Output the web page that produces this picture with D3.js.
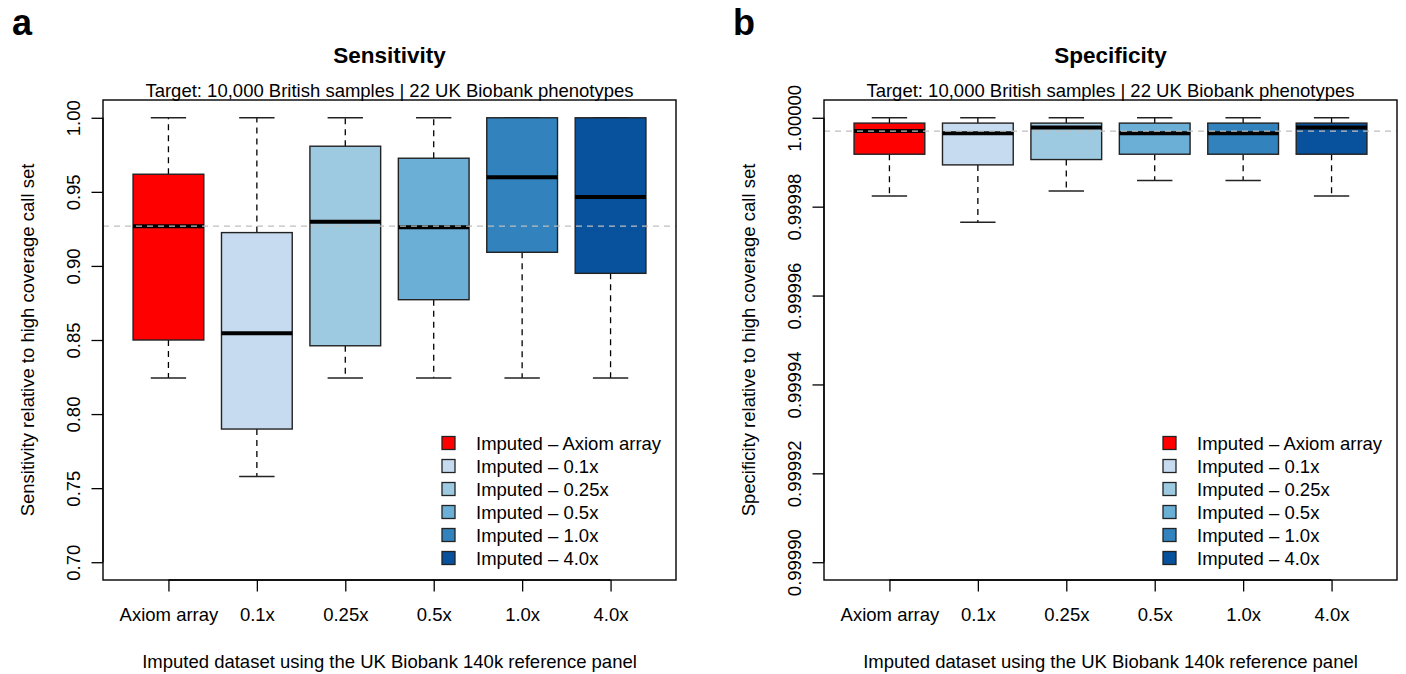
<!DOCTYPE html>
<html>
<head>
<meta charset="utf-8">
<script src="https://cdn.jsdelivr.net/npm/d3@7"></script>
<style>
    body { margin: 0; background: #fff; }
    svg { font-family: 'Liberation Sans', Arial, sans-serif; }
</style>
</head>
<body>
<div id="chart"></div>
<script>
// groups on the x axis and their fills
const groups = ['Axiom array', '0.1x', '0.25x', '0.5x', '1.0x', '4.0x'];
const legendLabels = groups.map((g) => `Imputed \u2013 ${g}`);
const fills = ['#FF0000', '#C6DBEF', '#9ECAE1', '#6BAED6', '#3182BD', '#08519C'];

// panel a: sensitivity box stats
const sensLower = [0.8243, 0.7578, 0.8243, 0.8243, 0.8243, 0.8243];
const sensQ1 = [0.8500, 0.7899, 0.8461, 0.8772, 0.9092, 0.8950];
const sensMedian = [0.9268, 0.8545, 0.9299, 0.9261, 0.9599, 0.9466];
const sensQ3 = [0.9619, 0.9225, 0.9808, 0.9727, 1.0000, 1.0000];
const sensUpper = [1.0, 1.0, 1.0, 1.0, 1.0, 1.0];
const sensTicks = [0.70, 0.75, 0.80, 0.85, 0.90, 0.95, 1.00];

// panel b: specificity box stats
const specLower = [0.9999824, 0.9999765, 0.9999835, 0.9999859, 0.9999859, 0.9999824];
const specQ1 = [0.9999918, 0.9999894, 0.9999906, 0.9999918, 0.9999918, 0.9999918];
const specMedian = [0.9999970, 0.9999965, 0.9999978, 0.9999965, 0.9999965, 0.9999978];
const specQ3 = [0.9999988, 0.9999988, 0.9999988, 0.9999988, 0.9999988, 0.9999988];
const specUpper = [1.0, 1.0, 1.0, 1.0, 1.0, 1.0];
const specTicks = [0.99990, 0.99992, 0.99994, 0.99996, 0.99998, 1.00000];

const subtitle = 'Target: 10,000 British samples | 22 UK Biobank phenotypes';
const xTitle = 'Imputed dataset using the UK Biobank 140k reference panel';

const svg = d3.select('#chart').append('svg')
    .attr('width', 1406)
    .attr('height', 674);

const fontSize = 18.5;
const lineH = 23;

function drawPanel(opt) {
    const left = opt.left;
    const top = 100;
    const width = 573;
    const height = 480;
    const ext = (opt.ylim[1] - opt.ylim[0]) * 0.04;

    const g = svg.append('g').attr('transform', `translate(${left}, ${top})`);

    const x = d3.scaleLinear().domain([0.26, 6.74]).range([0, width]);
    const y = d3.scaleLinear()
        .domain([opt.ylim[0] - ext, opt.ylim[1] + ext])
        .range([height, 0]);

    const stats = groups.map((name, i) => ({
        name,
        pos: i + 1,
        lo: opt.lower[i],
        q1: opt.q1[i],
        med: opt.median[i],
        q3: opt.q3[i],
        hi: opt.upper[i],
        fill: fills[i],
    }));

    const bw = x(0.8) - x(0);
    const sw = x(0.4) - x(0);

    const box = g.selectAll('.box')
        .data(stats)
        .enter()
        .append('g')
        .attr('class', 'box');

    // whiskers
    box.append('line')
        .attr('x1', (d) => x(d.pos)).attr('x2', (d) => x(d.pos))
        .attr('y1', (d) => y(d.q3)).attr('y2', (d) => y(d.hi))
        .attr('stroke', '#000').attr('stroke-width', 1.3)
        .attr('stroke-dasharray', '6,5');
    box.append('line')
        .attr('x1', (d) => x(d.pos)).attr('x2', (d) => x(d.pos))
        .attr('y1', (d) => y(d.q1)).attr('y2', (d) => y(d.lo))
        .attr('stroke', '#000').attr('stroke-width', 1.3)
        .attr('stroke-dasharray', '6,5');

    // staples
    ['lo', 'hi'].forEach((k) => {
        box.append('line')
            .attr('x1', (d) => x(d.pos) - sw / 2).attr('x2', (d) => x(d.pos) + sw / 2)
            .attr('y1', (d) => y(d[k])).attr('y2', (d) => y(d[k]))
            .attr('stroke', '#222').attr('stroke-width', 1.5);
    });

    box.append('rect')
        .attr('x', (d) => x(d.pos) - bw / 2)
        .attr('y', (d) => y(d.q3))
        .attr('width', bw)
        .attr('height', (d) => y(d.q1) - y(d.q3))
        .attr('fill', (d) => d.fill)
        .attr('stroke', '#222')
        .attr('stroke-width', 1.4);

    box.append('line')
        .attr('x1', (d) => x(d.pos) - bw / 2).attr('x2', (d) => x(d.pos) + bw / 2)
        .attr('y1', (d) => y(d.med)).attr('y2', (d) => y(d.med))
        .attr('stroke', '#000').attr('stroke-width', 4);

    // reference line at the Axiom array median
    g.append('line')
        .attr('x1', 0).attr('x2', width)
        .attr('y1', y(opt.median[0])).attr('y2', y(opt.median[0]))
        .attr('stroke', '#BEBEBE').attr('stroke-width', 1.3)
        .attr('stroke-dasharray', '6,5');

    // frame
    g.append('rect')
        .attr('width', width).attr('height', height)
        .attr('fill', 'none').attr('stroke', '#000').attr('stroke-width', 1.4);

    // axes
    const yAxis = d3.axisLeft(y).tickValues(opt.ticks).tickFormat(d3.format(opt.fmt))
        .tickSize(11.5).tickPadding(0);
    g.append('g')
        .call(yAxis)
        .call((a) => a.select('.domain')
            .attr('d', `M0,${y(opt.ticks[0])}V${y(opt.ticks[opt.ticks.length - 1])}`)
            .attr('stroke-width', 1.3))
        .call((a) => a.selectAll('.tick line').attr('stroke-width', 1.3))
        .selectAll('text')
        .attr('x', null).attr('dy', null)
        .attr('transform', 'translate(-23,0) rotate(-90)')
        .attr('text-anchor', 'middle')
        .style('font-size', `${fontSize}px`)
        .style('font-family', 'Liberation Sans, Arial, sans-serif')
        .attr('fill', '#000');

    const xAxis = d3.axisBottom(x).tickValues(d3.range(1, 7))
        .tickFormat((d) => groups[d - 1]).tickSize(11.5).tickPadding(0);
    g.append('g')
        .attr('transform', `translate(0, ${height})`)
        .call(xAxis)
        .call((a) => a.select('.domain')
            .attr('d', `M${x(1)},0H${x(6)}`)
            .attr('stroke-width', 1.3))
        .call((a) => a.selectAll('.tick line').attr('stroke-width', 1.3))
        .selectAll('text')
        .attr('y', 41).attr('dy', null)
        .style('font-size', `${fontSize}px`)
        .style('font-family', 'Liberation Sans, Arial, sans-serif')
        .attr('fill', '#000');

    // titles
    g.append('text')
        .attr('x', width / 2).attr('y', -37)
        .attr('text-anchor', 'middle')
        .style('font-size', '22.5px').style('font-weight', 'bold')
        .text(opt.title);
    g.append('text')
        .attr('x', width / 2).attr('y', -3.5)
        .attr('text-anchor', 'middle')
        .style('font-size', `${fontSize}px`)
        .text(subtitle);
    g.append('text')
        .attr('transform', `translate(${-3 * lineH}, ${height / 2}) rotate(-90)`)
        .attr('text-anchor', 'middle')
        .style('font-size', `${fontSize}px`)
        .text(opt.yTitle);
    g.append('text')
        .attr('x', width / 2).attr('y', height + 88)
        .attr('text-anchor', 'middle')
        .style('font-size', `${fontSize}px`)
        .text(xTitle);

    // panel letter
    svg.append('text')
        .attr('x', left - 91).attr('y', 35)
        .style('font-size', '36px').style('font-weight', 'bold')
        .text(opt.letter);

    // legend
    const leg = g.append('g').attr('transform', `translate(339, ${y.range()[0] - 137})`);
    const rows = leg.selectAll('g')
        .data(legendLabels)
        .enter()
        .append('g')
        .attr('transform', (d, i) => `translate(0, ${i * lineH})`);
    rows.append('rect')
        .attr('x', 0).attr('y', -6.5)
        .attr('width', 13).attr('height', 13)
        .attr('fill', (d, i) => fills[i])
        .attr('stroke', '#222').attr('stroke-width', 1.3);
    rows.append('text')
        .attr('x', 34).attr('y', 6.5)
        .style('font-size', `${fontSize}px`)
        .text((d) => d);
}

drawPanel({
    left: 103,
    letter: 'a',
    title: 'Sensitivity',
    yTitle: 'Sensitivity relative to high coverage call set',
    ylim: [0.70, 1.00],
    ticks: sensTicks,
    fmt: '.2f',
    lower: sensLower,
    q1: sensQ1,
    median: sensMedian,
    q3: sensQ3,
    upper: sensUpper,
});

drawPanel({
    left: 824,
    letter: 'b',
    title: 'Specificity',
    yTitle: 'Specificity relative to high coverage call set',
    ylim: [0.99990, 1.00000],
    ticks: specTicks,
    fmt: '.5f',
    lower: specLower,
    q1: specQ1,
    median: specMedian,
    q3: specQ3,
    upper: specUpper,
});
</script>
</body>
</html>
